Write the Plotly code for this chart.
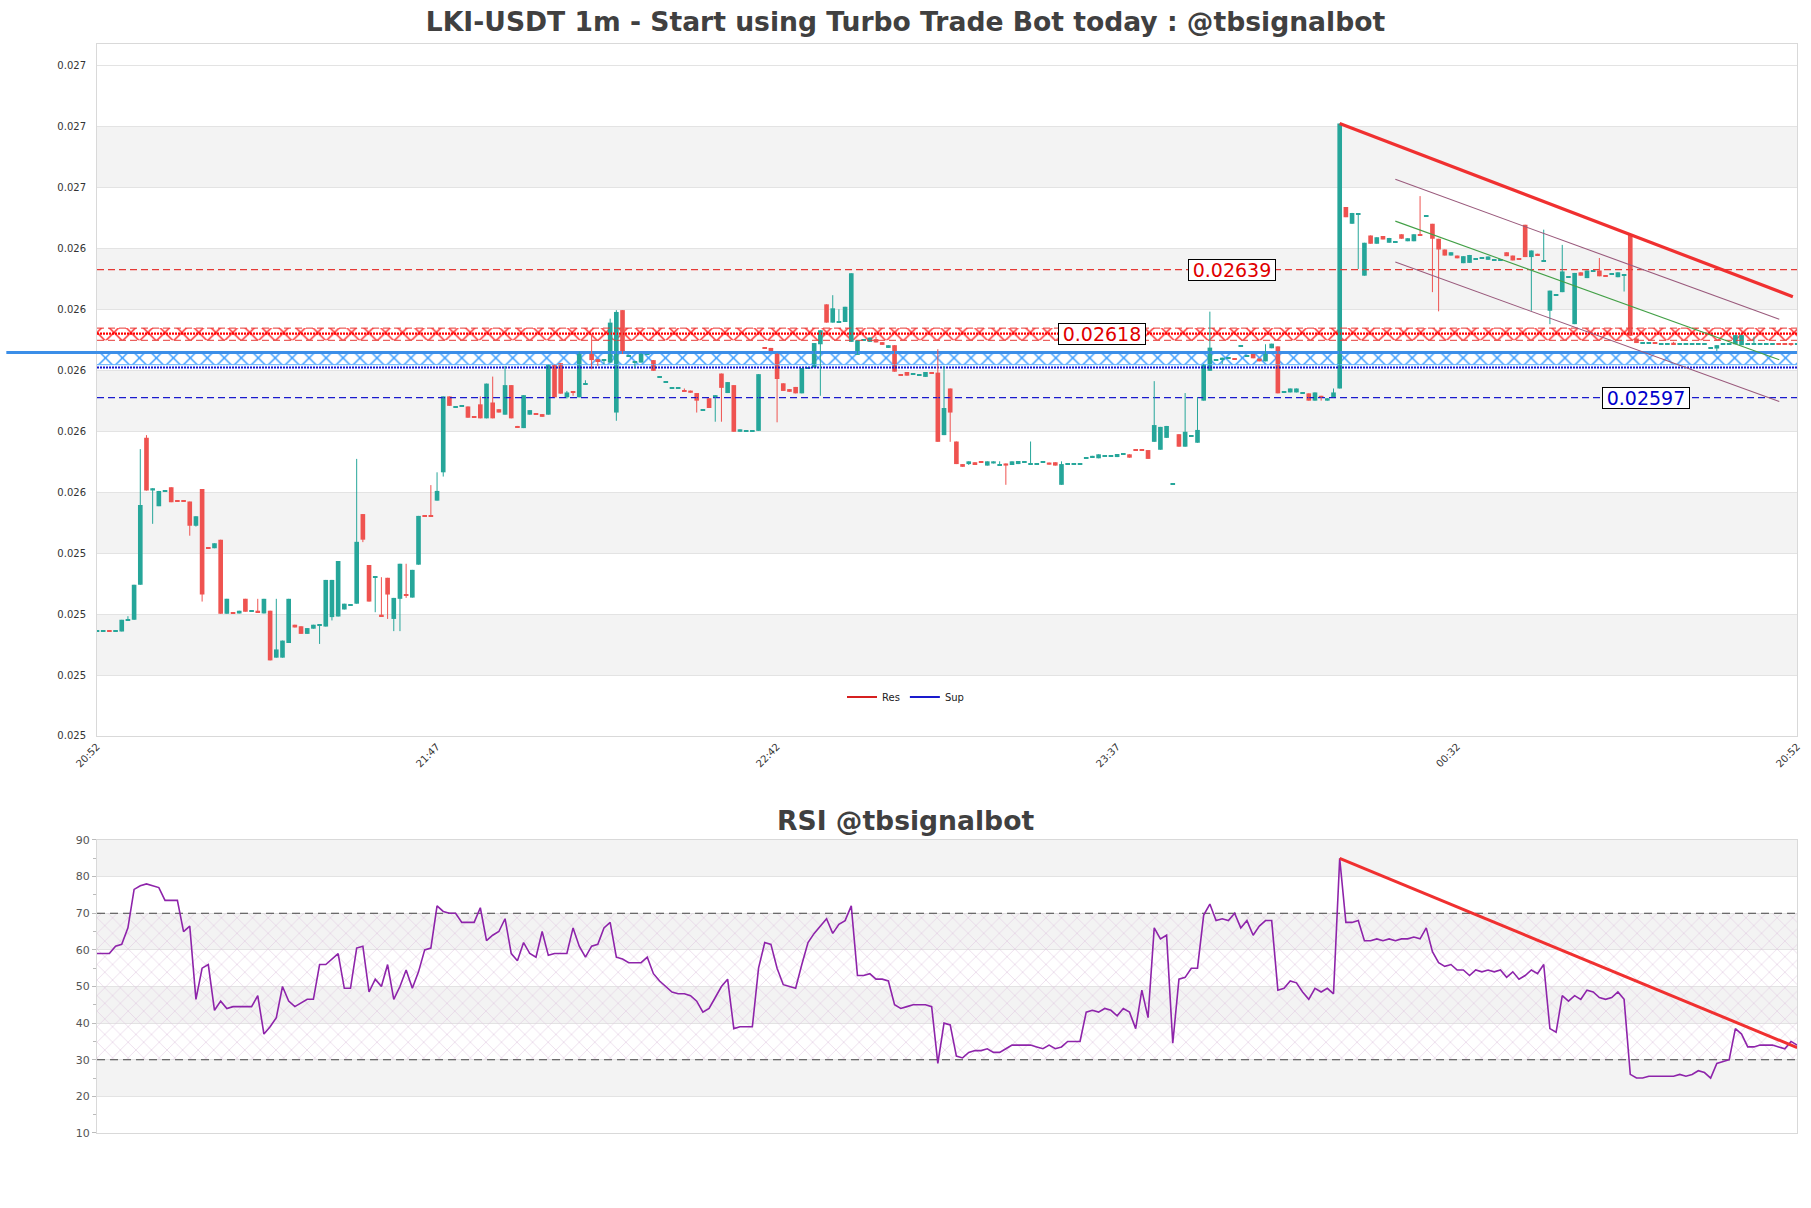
import plotly.graph_objects as go

TITLE = "LKI-USDT 1m - Start using Turbo Trade Bot today : @tbsignalbot"
RSI_TITLE = "RSI @tbsignalbot"

# ---------------- candle data (1 minute candles, index 0..275) ----------------
opens = [
    0.025203, 0.025203, 0.025204, 0.025203, 0.025203, 0.025239, 0.025241, 0.025356, 0.025838, 0.025665,
    0.025614, 0.025664, 0.025676, 0.025631, 0.025631, 0.025629, 0.025550, 0.025670, 0.025479, 0.025476,
    0.025504, 0.025261, 0.025266, 0.025262, 0.025310, 0.025271, 0.025271, 0.025262, 0.025271, 0.025117,
    0.025117, 0.025165, 0.025225, 0.025220, 0.025195, 0.025212, 0.025222, 0.025219, 0.025250, 0.025252,
    0.025275, 0.025290, 0.025294, 0.025588, 0.025421, 0.025380, 0.025258, 0.025379, 0.025244, 0.025310,
    0.025325, 0.025314, 0.025422, 0.025583, 0.025583, 0.025632, 0.025725, 0.025974, 0.025940, 0.025941,
    0.025941, 0.025906, 0.025948, 0.025902, 0.025954, 0.025932, 0.025914, 0.026011, 0.025877, 0.025870,
    0.025914, 0.025919, 0.025916, 0.025914, 0.026078, 0.026083, 0.025971, 0.025990, 0.025971, 0.026012,
    0.026121, 0.026096, 0.026093, 0.026085, 0.025921, 0.026257, 0.026105, 0.026085, 0.026085, 0.026114,
    0.026093, 0.026039, 0.026020, 0.026000, 0.026000, 0.025995, 0.025993, 0.025985, 0.025931, 0.025968,
    0.025971, 0.026049, 0.025985, 0.026011, 0.025858, 0.025861, 0.025861, 0.025861, 0.026134, 0.026133,
    0.026116, 0.026017, 0.025998, 0.026005, 0.025984, 0.026068, 0.026069, 0.026145, 0.026276, 0.026216,
    0.026216, 0.026218, 0.026153, 0.026110, 0.026159, 0.026153, 0.026162, 0.026152, 0.026133, 0.026142,
    0.026045, 0.026054, 0.026049, 0.026042, 0.026038, 0.026052, 0.026052, 0.025847, 0.026000, 0.025826,
    0.025752, 0.025752, 0.025758, 0.025761, 0.025747, 0.025754, 0.025750, 0.025754, 0.025749, 0.025752,
    0.025758, 0.025752, 0.025752, 0.025758, 0.025757, 0.025758, 0.025684, 0.025752, 0.025752, 0.025753,
    0.025771, 0.025772, 0.025771, 0.025777, 0.025779, 0.025775, 0.025785, 0.025784, 0.025799, 0.025800,
    0.025798, 0.025825, 0.025799, 0.025838, 0.025686, 0.025850, 0.025809, 0.025843, 0.025822, 0.025960,
    0.026058, 0.026095, 0.026095, 0.026099, 0.026097, 0.026138, 0.026105, 0.026113, 0.026098, 0.026089,
    0.026132, 0.026138, 0.025987, 0.025987, 0.025987, 0.025984, 0.025984, 0.025960, 0.025976, 0.025960,
    0.025971, 0.026000, 0.026595, 0.026540, 0.026573, 0.026370, 0.026502, 0.026475, 0.026500, 0.026478,
    0.026480, 0.026506, 0.026483, 0.026483, 0.026506, 0.026565, 0.026540, 0.026491, 0.026456, 0.026436,
    0.026436, 0.026411, 0.026412, 0.026425, 0.026427, 0.026422, 0.026423, 0.026423, 0.026447, 0.026436,
    0.026424, 0.026537, 0.026431, 0.026442, 0.026417, 0.026255, 0.026307, 0.026316, 0.026365, 0.026211,
    0.026381, 0.026362, 0.026384, 0.026387, 0.026371, 0.026376, 0.026365, 0.026373, 0.026504, 0.026164,
    0.026149, 0.026149, 0.026151, 0.026147, 0.026147, 0.026150, 0.026147, 0.026147, 0.026147, 0.026145,
    0.026145, 0.026134, 0.026131, 0.026145, 0.026147, 0.026145, 0.026142, 0.026145, 0.026147, 0.026145,
    0.026145, 0.026145, 0.026146, 0.026146, 0.026146, 0.026145,
]
highs = [
    0.025203, 0.025203, 0.025204, 0.025203, 0.025241, 0.025253, 0.025356, 0.025801, 0.025847, 0.025673,
    0.025664, 0.025664, 0.025676, 0.025631, 0.025631, 0.025629, 0.025581, 0.025670, 0.025479, 0.025492,
    0.025504, 0.025310, 0.025266, 0.025271, 0.025310, 0.025271, 0.025310, 0.025310, 0.025271, 0.025310,
    0.025173, 0.025310, 0.025225, 0.025220, 0.025214, 0.025225, 0.025227, 0.025372, 0.025372, 0.025434,
    0.025294, 0.025290, 0.025769, 0.025588, 0.025421, 0.025382, 0.025381, 0.025379, 0.025313, 0.025425,
    0.025425, 0.025405, 0.025582, 0.025583, 0.025683, 0.025725, 0.025974, 0.025974, 0.025940, 0.025941,
    0.025941, 0.025906, 0.025974, 0.026016, 0.026039, 0.025932, 0.026074, 0.026011, 0.025877, 0.025978,
    0.025929, 0.025919, 0.025916, 0.026078, 0.026078, 0.026083, 0.025992, 0.025990, 0.026121, 0.026027,
    0.026173, 0.026096, 0.026096, 0.026229, 0.026257, 0.026257, 0.026107, 0.026087, 0.026116, 0.026114,
    0.026093, 0.026039, 0.026020, 0.026000, 0.026000, 0.026000, 0.025993, 0.025985, 0.025931, 0.025968,
    0.025978, 0.026049, 0.026021, 0.026011, 0.025866, 0.025861, 0.025861, 0.026047, 0.026134, 0.026133,
    0.026116, 0.026017, 0.025998, 0.026005, 0.026067, 0.026068, 0.026149, 0.026191, 0.026276, 0.026306,
    0.026260, 0.026268, 0.026378, 0.026158, 0.026159, 0.026167, 0.026170, 0.026152, 0.026142, 0.026142,
    0.026045, 0.026054, 0.026049, 0.026046, 0.026054, 0.026052, 0.026129, 0.026074, 0.026000, 0.025826,
    0.025752, 0.025761, 0.025758, 0.025761, 0.025761, 0.025761, 0.025761, 0.025754, 0.025761, 0.025762,
    0.025758, 0.025826, 0.025752, 0.025758, 0.025757, 0.025758, 0.025761, 0.025752, 0.025752, 0.025753,
    0.025771, 0.025779, 0.025784, 0.025777, 0.025779, 0.025785, 0.025785, 0.025784, 0.025799, 0.025800,
    0.025798, 0.026024, 0.025874, 0.025877, 0.025686, 0.025850, 0.025985, 0.025843, 0.025971, 0.026080,
    0.026252, 0.026095, 0.026101, 0.026099, 0.026097, 0.026138, 0.026109, 0.026113, 0.026098, 0.026145,
    0.026147, 0.026138, 0.025987, 0.026000, 0.026000, 0.025984, 0.025984, 0.025987, 0.025976, 0.025968,
    0.026000, 0.026869, 0.026595, 0.026576, 0.026573, 0.026478, 0.026502, 0.026496, 0.026500, 0.026494,
    0.026480, 0.026506, 0.026493, 0.026506, 0.026631, 0.026565, 0.026540, 0.026491, 0.026456, 0.026447,
    0.026436, 0.026434, 0.026438, 0.026425, 0.026427, 0.026433, 0.026423, 0.026423, 0.026447, 0.026436,
    0.026424, 0.026537, 0.026453, 0.026442, 0.026521, 0.026321, 0.026307, 0.026471, 0.026365, 0.026379,
    0.026381, 0.026387, 0.026384, 0.026428, 0.026371, 0.026376, 0.026381, 0.026373, 0.026504, 0.026164,
    0.026149, 0.026149, 0.026151, 0.026147, 0.026147, 0.026153, 0.026147, 0.026147, 0.026147, 0.026145,
    0.026145, 0.026134, 0.026142, 0.026145, 0.026147, 0.026175, 0.026175, 0.026145, 0.026170, 0.026145,
    0.026145, 0.026145, 0.026146, 0.026146, 0.026146, 0.026145,
]
lows = [
    0.025203, 0.025203, 0.025202, 0.025203, 0.025203, 0.025239, 0.025241, 0.025356, 0.025665, 0.025556,
    0.025614, 0.025664, 0.025627, 0.025630, 0.025630, 0.025517, 0.025547, 0.025301, 0.025476, 0.025476,
    0.025261, 0.025261, 0.025263, 0.025262, 0.025268, 0.025271, 0.025266, 0.025262, 0.025108, 0.025117,
    0.025117, 0.025165, 0.025216, 0.025195, 0.025195, 0.025212, 0.025162, 0.025219, 0.025239, 0.025252,
    0.025275, 0.025290, 0.025294, 0.025496, 0.025301, 0.025266, 0.025253, 0.025244, 0.025204, 0.025204,
    0.025313, 0.025314, 0.025422, 0.025582, 0.025582, 0.025632, 0.025711, 0.025943, 0.025940, 0.025941,
    0.025904, 0.025905, 0.025902, 0.025902, 0.025902, 0.025921, 0.025914, 0.025902, 0.025872, 0.025870,
    0.025914, 0.025913, 0.025907, 0.025914, 0.025971, 0.025983, 0.025967, 0.025976, 0.025971, 0.026012,
    0.026063, 0.026074, 0.026080, 0.026085, 0.025894, 0.026113, 0.026105, 0.026067, 0.026085, 0.026114,
    0.026058, 0.026039, 0.026020, 0.026000, 0.026000, 0.025989, 0.025986, 0.025921, 0.025931, 0.025936,
    0.025891, 0.025891, 0.025985, 0.025858, 0.025858, 0.025861, 0.025861, 0.025861, 0.026131, 0.026123,
    0.025889, 0.025992, 0.025989, 0.025984, 0.025984, 0.026068, 0.026069, 0.025976, 0.026216, 0.026216,
    0.026216, 0.026218, 0.026153, 0.026110, 0.026159, 0.026153, 0.026151, 0.026143, 0.026133, 0.026055,
    0.026044, 0.026042, 0.026049, 0.026042, 0.026038, 0.026049, 0.025825, 0.025847, 0.025825, 0.025752,
    0.025743, 0.025749, 0.025752, 0.025757, 0.025747, 0.025754, 0.025750, 0.025684, 0.025749, 0.025752,
    0.025758, 0.025752, 0.025752, 0.025758, 0.025750, 0.025747, 0.025684, 0.025752, 0.025752, 0.025753,
    0.025771, 0.025772, 0.025771, 0.025777, 0.025779, 0.025775, 0.025785, 0.025773, 0.025796, 0.025797,
    0.025769, 0.025825, 0.025799, 0.025838, 0.025686, 0.025809, 0.025809, 0.025843, 0.025822, 0.025960,
    0.026058, 0.026095, 0.026080, 0.026099, 0.026096, 0.026138, 0.026105, 0.026099, 0.026089, 0.026089,
    0.026132, 0.025984, 0.025987, 0.025987, 0.025987, 0.025984, 0.025960, 0.025960, 0.025960, 0.025960,
    0.025971, 0.026000, 0.026562, 0.026540, 0.026392, 0.026370, 0.026475, 0.026475, 0.026489, 0.026478,
    0.026480, 0.026491, 0.026483, 0.026483, 0.026502, 0.026565, 0.026316, 0.026253, 0.026436, 0.026436,
    0.026427, 0.026411, 0.026412, 0.026425, 0.026427, 0.026422, 0.026423, 0.026423, 0.026434, 0.026420,
    0.026423, 0.026431, 0.026255, 0.026436, 0.026417, 0.026211, 0.026307, 0.026316, 0.026365, 0.026211,
    0.026370, 0.026362, 0.026384, 0.026368, 0.026370, 0.026376, 0.026365, 0.026318, 0.026173, 0.026149,
    0.026149, 0.026149, 0.026150, 0.026147, 0.026147, 0.026145, 0.026147, 0.026147, 0.026147, 0.026145,
    0.026145, 0.026134, 0.026123, 0.026145, 0.026147, 0.026145, 0.026142, 0.026145, 0.026147, 0.026145,
    0.026145, 0.026145, 0.026145, 0.026145, 0.026140, 0.026145,
]
closes = [
    0.025203, 0.025203, 0.025202, 0.025203, 0.025241, 0.025244, 0.025356, 0.025618, 0.025665, 0.025673,
    0.025664, 0.025664, 0.025627, 0.025630, 0.025630, 0.025550, 0.025581, 0.025324, 0.025476, 0.025492,
    0.025261, 0.025310, 0.025263, 0.025271, 0.025268, 0.025271, 0.025266, 0.025310, 0.025108, 0.025144,
    0.025173, 0.025310, 0.025216, 0.025195, 0.025214, 0.025225, 0.025227, 0.025372, 0.025372, 0.025434,
    0.025294, 0.025290, 0.025497, 0.025504, 0.025301, 0.025382, 0.025253, 0.025324, 0.025313, 0.025425,
    0.025320, 0.025405, 0.025582, 0.025582, 0.025582, 0.025664, 0.025974, 0.025943, 0.025940, 0.025941,
    0.025904, 0.025905, 0.025902, 0.026016, 0.025902, 0.025921, 0.026011, 0.025902, 0.025872, 0.025978,
    0.025929, 0.025913, 0.025907, 0.026078, 0.025971, 0.025983, 0.025987, 0.025987, 0.026121, 0.026016,
    0.026093, 0.026090, 0.026096, 0.026216, 0.026251, 0.026113, 0.026107, 0.026087, 0.026116, 0.026114,
    0.026058, 0.026039, 0.026020, 0.026000, 0.026000, 0.025989, 0.025986, 0.025960, 0.025931, 0.025936,
    0.025978, 0.026002, 0.026021, 0.025858, 0.025866, 0.025861, 0.025861, 0.026047, 0.026131, 0.026123,
    0.026031, 0.025992, 0.025989, 0.025984, 0.026067, 0.026068, 0.026149, 0.026191, 0.026216, 0.026263,
    0.026221, 0.026268, 0.026378, 0.026158, 0.026159, 0.026167, 0.026151, 0.026143, 0.026142, 0.026055,
    0.026044, 0.026042, 0.026049, 0.026046, 0.026054, 0.026049, 0.025825, 0.025936, 0.025921, 0.025752,
    0.025743, 0.025761, 0.025752, 0.025757, 0.025761, 0.025761, 0.025750, 0.025747, 0.025761, 0.025762,
    0.025758, 0.025752, 0.025752, 0.025758, 0.025750, 0.025747, 0.025752, 0.025752, 0.025752, 0.025753,
    0.025771, 0.025779, 0.025784, 0.025777, 0.025779, 0.025785, 0.025785, 0.025773, 0.025796, 0.025797,
    0.025769, 0.025880, 0.025874, 0.025877, 0.025686, 0.025809, 0.025858, 0.025843, 0.025864, 0.026080,
    0.026134, 0.026095, 0.026101, 0.026099, 0.026096, 0.026138, 0.026109, 0.026099, 0.026089, 0.026121,
    0.026147, 0.025984, 0.025987, 0.026000, 0.026000, 0.025984, 0.025960, 0.025987, 0.025971, 0.025968,
    0.025987, 0.026869, 0.026562, 0.026576, 0.026573, 0.026478, 0.026475, 0.026496, 0.026489, 0.026494,
    0.026480, 0.026491, 0.026493, 0.026506, 0.026502, 0.026565, 0.026491, 0.026456, 0.026436, 0.026447,
    0.026427, 0.026434, 0.026438, 0.026425, 0.026427, 0.026433, 0.026423, 0.026423, 0.026434, 0.026420,
    0.026423, 0.026431, 0.026453, 0.026436, 0.026417, 0.026321, 0.026307, 0.026384, 0.026365, 0.026379,
    0.026370, 0.026387, 0.026384, 0.026368, 0.026370, 0.026376, 0.026381, 0.026373, 0.026173, 0.026149,
    0.026149, 0.026149, 0.026150, 0.026147, 0.026147, 0.026145, 0.026147, 0.026147, 0.026147, 0.026145,
    0.026145, 0.026134, 0.026142, 0.026145, 0.026147, 0.026175, 0.026175, 0.026145, 0.026147, 0.026145,
    0.026145, 0.026145, 0.026145, 0.026145, 0.026145, 0.026145,
]

# ---------------- RSI values (same index) ----------------
rsi_values = [
    59, 59, 59, 61, 61.5, 66, 76.5, 77.5, 78, 77.5,
    77, 73.5, 73.5, 73.5, 65, 66.5, 46.5, 55, 56, 43.5,
    46, 44, 44.5, 44.5, 44.5, 44.5, 47.5, 37, 39, 41.5,
    50, 46, 44.5, 45.5, 46.5, 46.5, 56, 56, 57.5, 59,
    49.5, 49.5, 60.5, 61, 48.5, 52, 50, 56, 46.5, 50,
    54.5, 49.5, 54, 60, 60.5, 72, 70.5, 70, 70, 67.5,
    67.5, 67.5, 71.5, 62.5, 64, 65, 68.5, 59, 57, 62,
    59, 58, 65, 58.5, 59, 59, 59, 66, 61, 58,
    61, 61.5, 66, 67.5, 58, 57.5, 56.5, 56.5, 56.5, 58,
    53.5, 51.5, 50, 48.5, 48, 48, 47.5, 46, 43, 44,
    47, 50, 52, 38.5, 39, 39, 39, 55, 62, 61.5,
    55, 50.5, 50, 49.5, 56, 62, 64.5, 66.5, 68.5, 64.5,
    67, 68, 72, 53, 53, 53.5, 52, 52, 51.5, 45,
    44, 44.5, 45, 45, 45, 44.5, 29, 40, 39.5, 31,
    30.5, 32, 32.5, 32.5, 33, 32, 32, 33, 34, 34,
    34, 34, 33.5, 33, 34, 33, 33.5, 35, 35, 35,
    43, 43.5, 43, 44, 43.5, 42, 44, 43, 38.5, 49,
    41.5, 66, 63, 64, 34.5, 52, 52.5, 55, 55, 69.5,
    72.5, 68, 68.5, 68, 70, 66, 68, 64, 66.5, 68,
    68, 49, 49.5, 51.5, 51, 48.5, 46.5, 49.5, 48.5, 49.5,
    48, 85, 67.5, 67.5, 68, 62.5, 62.5, 63, 62.5, 63,
    62.5, 63, 63, 63.5, 63, 66, 59.5, 56.5, 55.5, 56,
    54.5, 54.5, 53, 54.5, 54, 54.5, 54, 54.5, 52.5, 54,
    52, 53, 54.5, 53.5, 56, 38.5, 37.5, 47.5, 46, 47.5,
    46.5, 49, 48.5, 47, 46.5, 47, 48.5, 46.5, 26, 25,
    25, 25.5, 25.5, 25.5, 25.5, 25.5, 26, 25.5, 26, 27,
    26.5, 25, 29, 29.5, 30, 38.5, 37, 33.5, 33.5, 34,
    34, 34, 33.5, 33, 35, 34,
]

# ---------------- axes ----------------
x_tick_pos = [0, 55, 110, 165, 220, 275]
x_tick_text = ["20:52", "21:47", "22:42", "23:37", "00:32", "20:52"]
price_ticks = [0.02486, 0.02506, 0.02526, 0.02546, 0.02566, 0.02586,
               0.02606, 0.02626, 0.02646, 0.02666, 0.02686, 0.02706]
price_range = [0.02486, 0.02713]
rsi_ticks = [10, 20, 30, 40, 50, 60, 70, 80, 90]
rsi_range = [10, 90]
rsi_levels = [30, 70]

# ---------------- levels / zones ----------------
res_level = 0.02639
sup_level = 0.02597
res_zone = [0.026158, 0.026198]
res_zone_mid = 0.026180
sup_zone = [0.026078, 0.026118]
sup_zone_dots = 0.026069
level_labels = [("0.02639", 183.5, 0.02639, "#e00000"),
                ("0.02618", 162.5, 0.02618, "#e00000"),
                ("0.02597", 250.6, 0.02597, "#0000cc")]

# ---------------- trend lines ----------------
price_trend_x = [201, 274.3]
price_trend_y = [0.026869, 0.026301]
channel_x = [210, 272.1]
channel_upper = [0.026686, 0.026227]
channel_mid = [0.026549, 0.026094]
channel_lower = [0.026415, 0.025957]
rsi_trend_x = [201, 275]
rsi_trend_y = [85, 33.3]

TEAL = "#26a69a"
RED = "#ef5350"
BAND = "#f3f3f3"
FRAME = "#d9d9d9"
X_MAX = x_tick_pos[-1]

fig = go.Figure()


def hline(y, color, width, dash, xa="x", ya="y"):
    return go.Scatter(x=[0, X_MAX], y=[y, y], mode="lines",
                      line=dict(color=color, width=width, dash=dash),
                      hoverinfo="skip", showlegend=False, xaxis=xa, yaxis=ya)


def zone(lo, hi, color, size, solidity, xa="x", ya="y"):
    return go.Bar(x=[X_MAX / 2], y=[hi - lo], base=[lo], width=[X_MAX],
                  marker=dict(color="rgba(0,0,0,0)", line=dict(width=0),
                              pattern=dict(shape="x", fgcolor=color, bgcolor="rgba(0,0,0,0)",
                                           size=size, solidity=solidity, fillmode="replace")),
                  hoverinfo="skip", showlegend=False, xaxis=xa, yaxis=ya)


# ---- RSI panel ----
fig.add_trace(zone(rsi_levels[0], rsi_levels[1], "#e0c8e0", 11, 0.1, "x2", "y2"))
for lv in rsi_levels:
    fig.add_trace(hline(lv, "#444444", 1.2, "8px,5px", "x2", "y2"))
fig.add_trace(go.Scatter(x=list(range(len(rsi_values))), y=rsi_values, mode="lines",
                         line=dict(color="#8e24aa", width=1.6), showlegend=False,
                         xaxis="x2", yaxis="y2", hoverinfo="skip"))
fig.add_trace(go.Scatter(x=rsi_trend_x, y=rsi_trend_y, mode="lines",
                         line=dict(color="#f03030", width=3), showlegend=False,
                         xaxis="x2", yaxis="y2", hoverinfo="skip"))

# ---- price zones and levels ----
fig.add_trace(zone(res_zone[0], res_zone[1], "#ff2020", 12, 0.22))
fig.add_trace(hline(res_zone[0], "#e53935", 1, "7px,4px"))
fig.add_trace(hline(res_zone[1], "#e53935", 1, "7px,4px"))
fig.add_trace(hline(res_zone_mid, "#ff0000", 2.2, "2px,1px"))
fig.add_trace(zone(sup_zone[0], sup_zone[1], "#3399ff", 12, 0.22))
fig.add_trace(hline(sup_zone[0], "#5ab0ff", 1, "solid"))
fig.add_trace(hline(sup_zone[1], "#3b8ee8", 3, "solid"))
fig.add_trace(hline(sup_zone_dots, "#1010cc", 2, "2px,1px"))
fig.add_trace(hline(res_level, "#e53935", 1.2, "7px,4px"))
fig.add_trace(hline(sup_level, "#1a1acd", 1.2, "7px,4px"))

# ---- candles ----
n = min(len(opens), len(highs), len(lows), len(closes))
xs = list(range(n))
MIN_BODY = 3.3e-6
body_base, body_h, colors = [], [], []
for i in range(n):
    o, c = opens[i], closes[i]
    h = abs(c - o)
    if h < MIN_BODY:
        body_base.append((o + c) / 2 - MIN_BODY / 2)
        body_h.append(MIN_BODY)
    else:
        body_base.append(min(o, c))
        body_h.append(h)
    colors.append(RED if c < o else TEAL)

for col in (TEAL, RED):
    wx, wy = [], []
    for i in range(n):
        if colors[i] == col:
            wx += [i, i, None]
            wy += [lows[i], highs[i], None]
    fig.add_trace(go.Scatter(x=wx, y=wy, mode="lines", line=dict(color=col, width=1),
                             showlegend=False, hoverinfo="skip"))

fig.add_trace(go.Bar(x=xs, y=body_h, base=body_base, width=0.75,
                     marker=dict(color=colors, line=dict(width=0)),
                     showlegend=False, hoverinfo="skip"))

# ---- channel and trend ----
fig.add_trace(go.Scatter(x=channel_x, y=channel_upper, mode="lines",
                         line=dict(color="#9a5a7c", width=1.1), showlegend=False, hoverinfo="skip"))
fig.add_trace(go.Scatter(x=channel_x, y=channel_lower, mode="lines",
                         line=dict(color="#9a5a7c", width=1.1), showlegend=False, hoverinfo="skip"))
fig.add_trace(go.Scatter(x=channel_x, y=channel_mid, mode="lines",
                         line=dict(color="#43a047", width=1.1), showlegend=False, hoverinfo="skip"))
fig.add_trace(go.Scatter(x=price_trend_x, y=price_trend_y, mode="lines",
                         line=dict(color="#f03030", width=3.2), showlegend=False, hoverinfo="skip"))

# ---- legend entries ----
fig.add_trace(go.Scatter(x=[None], y=[None], mode="lines", name="Res",
                         line=dict(color="#d62020", width=2)))
fig.add_trace(go.Scatter(x=[None], y=[None], mode="lines", name="Sup",
                         line=dict(color="#1a1acd", width=2)))

# ---- background bands ----
shapes = []
for k in range(1, len(price_ticks) - 1, 2):
    shapes.append(dict(type="rect", xref="x domain", yref="y", x0=0, x1=1,
                       y0=price_ticks[k], y1=price_ticks[k + 1],
                       fillcolor=BAND, line=dict(width=0), layer="below"))
for k in range(1, len(rsi_ticks) - 1, 2):
    shapes.append(dict(type="rect", xref="x2 domain", yref="y2", x0=0, x1=1,
                       y0=rsi_ticks[k], y1=rsi_ticks[k + 1],
                       fillcolor=BAND, line=dict(width=0), layer="below"))
# price marker line extending left of the axis
shapes.append(dict(type="line", xref="paper", yref="y", x0=0.0035, x1=0.0536,
                   y0=sup_zone[1], y1=sup_zone[1], line=dict(color="#3b8ee8", width=3)))

annotations = []
for txt, lx, ly, col in level_labels:
    annotations.append(dict(x=lx, y=ly, xref="x", yref="y", text=txt, showarrow=False,
                            font=dict(size=19, color=col, family="DejaVu Sans"),
                            bgcolor="white", bordercolor="black", borderwidth=1,
                            borderpad=0, width=86, height=20,
                            xanchor="center", yanchor="middle"))
annotations.append(dict(x=0.5, y=1 - 820 / 1208, xref="paper", yref="paper",
                        text="<b>" + RSI_TITLE + "</b>", showarrow=False,
                        font=dict(size=26.6, color="#404040", family="DejaVu Sans"),
                        xanchor="center", yanchor="middle"))

DOM_X = [0.05357, 0.99238]
fig.update_layout(
    width=1811, height=1208, margin=dict(l=0, r=0, t=0, b=0, autoexpand=False),
    paper_bgcolor="white", plot_bgcolor="white",
    font=dict(family="DejaVu Sans", color="#333333"),
    title=dict(text="<b>" + TITLE + "</b>", x=0.5, xanchor="center",
               y=1 - 22 / 1208, yanchor="middle", automargin=False,
               font=dict(size=26.6, color="#404040", family="DejaVu Sans")),
    barmode="overlay",
    showlegend=True,
    legend=dict(orientation="h", x=0.5, xanchor="center", y=1 - 697 / 1208, yanchor="middle",
                font=dict(size=10, color="#222222"), bgcolor="rgba(0,0,0,0)", itemwidth=30),
    xaxis=dict(domain=DOM_X, range=[0, X_MAX], tickvals=x_tick_pos, ticktext=x_tick_text,
               tickangle=-45, tickfont=dict(size=10, color="#333333"), showgrid=False,
               zeroline=False, showline=True, mirror=True, linecolor=FRAME, anchor="y",
               automargin=False),
    yaxis=dict(domain=[0.39073, 0.96358], range=price_range, tickvals=price_ticks,
               tickformat=".3f", tickfont=dict(size=10, color="#333333"), showgrid=True,
               gridcolor="#e3e3e3", zeroline=False, showline=True, mirror=True,
               linecolor=FRAME, anchor="x", ticklabelstandoff=8, automargin=False),
    xaxis2=dict(domain=DOM_X, range=[0, X_MAX], showticklabels=False, showgrid=False,
                zeroline=False, showline=True, mirror=True, linecolor=FRAME, anchor="y2",
                automargin=False),
    yaxis2=dict(domain=[0.06209, 0.30464], range=rsi_range, tickvals=rsi_ticks,
                tickfont=dict(size=11, color="#555555"), showgrid=True, gridcolor="#e3e3e3",
                ticks="outside", ticklen=4, tickcolor="#bbbbbb",
                minor=dict(tick0=10, dtick=5, ticks="outside", ticklen=3,
                           tickcolor="#bbbbbb", showgrid=False),
                zeroline=False, showline=True, mirror=True, linecolor=FRAME, anchor="x2",
                automargin=False),
    shapes=shapes, annotations=annotations,
)

fig.write_html("out.html")
